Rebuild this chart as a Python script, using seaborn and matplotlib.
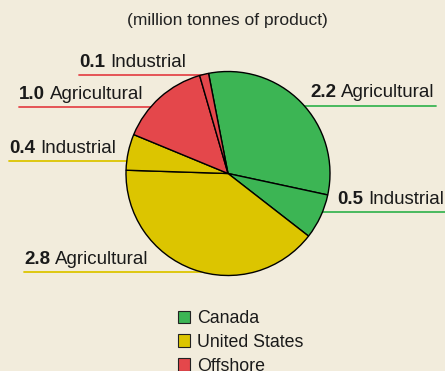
import matplotlib
matplotlib.use("Agg")
import matplotlib.pyplot as plt
import seaborn as sns
from matplotlib.patches import Patch

# data
regions = ["Canada", "United States", "Offshore"]
uses = ["Agricultural", "Industrial"]
canada = [2.2, 0.5]
united_states = [2.8, 0.4]
offshore = [1.0, 0.1]

bg = "#f2ecdc"
palette = dict(zip(regions, ["#3cb554", "#dcc500", "#e4474b"]))

sns.set_style("white", {"axes.facecolor": bg, "figure.facecolor": bg})
plt.rcParams["font.family"] = ["Liberation Sans", "DejaVu Sans"]

H = 371
def top(y):
    # pixel row from top -> data y
    return H - y

fig = plt.figure(figsize=(4.45, 3.71), dpi=100)
ax = fig.add_axes([0, 0, 1, 1])

values = canada + united_states + offshore
colors = [palette[r] for r in regions for _ in uses]
cx, cy, rad = 228, top(173.5), 102
ax.pie(values, colors=colors, startangle=101, counterclock=False,
       center=(cx, cy), radius=rad, frame=True,
       wedgeprops=dict(edgecolor="black", linewidth=1.0, zorder=3))
ax.set_xlim(0, 445)
ax.set_ylim(0, H)
ax.set_aspect("equal")
ax.axis("off")

ax.text(227, top(21), "(million tonnes of product)", ha="center", va="center",
        fontsize=12.5, color="#222222")

# labels: (value, use, region, text x, baseline, line y, side)
labels = [
    (offshore[1], "Industrial", "Offshore", 79, 67, 75, "left"),
    (offshore[0], "Agricultural", "Offshore", 19, 99, 107, "left"),
    (canada[0], "Agricultural", "Canada", 310, 97, 106, "right"),
    (united_states[1], "Industrial", "United States", 9, 153, 161, "left"),
    (canada[1], "Industrial", "Canada", 337, 204, 212, "right"),
    (united_states[0], "Agricultural", "United States", 24, 264, 272, "left"),
]

fig.canvas.draw()
renderer = fig.canvas.get_renderer()
inv = ax.transData.inverted()
for val, use, reg, tx, base, ly, side in labels:
    t = ax.text(tx, top(base), f"{val:.1f}", fontsize=13.5, fontweight="bold",
                ha="left", va="baseline", color="#1a1a1a")
    bb = t.get_window_extent(renderer)
    x1 = inv.transform((bb.x1, bb.y0))[0]
    t2 = ax.text(x1 + 5, top(base), use, fontsize=13.5, ha="left",
                 va="baseline", color="#1a1a1a")
    bb2 = t2.get_window_extent(renderer)
    x2 = inv.transform((bb2.x1, bb2.y0))[0]
    if side == "left":
        ax.plot([tx, cx], [top(ly), top(ly)], color=palette[reg], lw=1.3, zorder=1)
    else:
        ax.plot([cx, x2 + 1], [top(ly), top(ly)], color=palette[reg], lw=1.3, zorder=1)

handles = [Patch(facecolor=palette[r], edgecolor="#222222", linewidth=0.8, label=r)
           for r in regions]
ax.legend(handles=handles, loc="upper left", bbox_to_anchor=(178 / 445, 1 - 310 / H),
          frameon=False, fontsize=12.8, handlelength=0.7, handleheight=0.7,
          handletextpad=0.35, labelspacing=0.38, borderpad=0, borderaxespad=0,
          labelcolor="#1a1a1a")

fig.savefig("out.png", dpi=100, facecolor=bg)
